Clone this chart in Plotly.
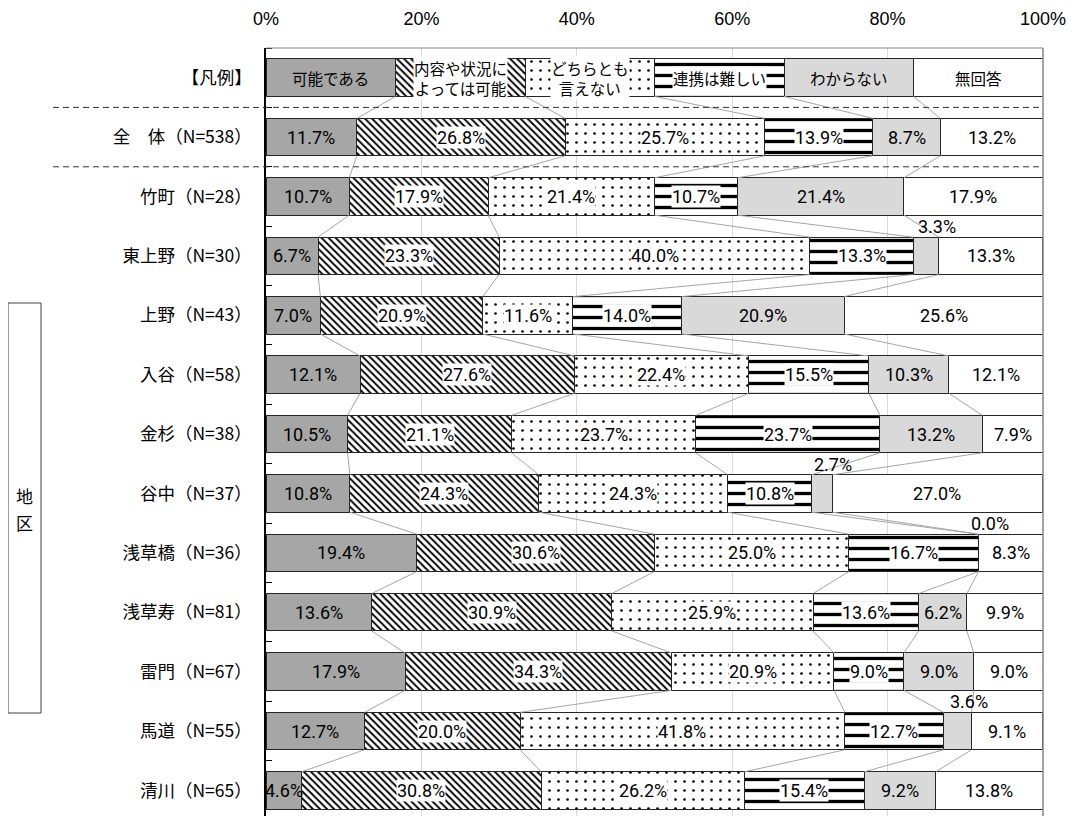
import plotly.graph_objects as go

# ---------------- data ----------------
categories = ["【凡例】", "全　体（N=538）", "竹町（N=28）", "東上野（N=30）", "上野（N=43）",
              "入谷（N=58）", "金杉（N=38）", "谷中（N=37）", "浅草橋（N=36）", "浅草寿（N=81）",
              "雷門（N=67）", "馬道（N=55）", "清川（N=65）"]
series_names = ["可能である", "内容や状況によっては可能", "どちらとも言えない", "連携は難しい", "わからない", "無回答"]
legend_labels = ["可能である", "内容や状況に<br>よっては可能", "どちらとも<br>言えない", "連携は難しい", "わからない", "無回答"]
legend_share = [100 / 6] * 6

kanou = [11.7, 10.7, 6.7, 7.0, 12.1, 10.5, 10.8, 19.4, 13.6, 17.9, 12.7, 4.6]
naiyou = [26.8, 17.9, 23.3, 20.9, 27.6, 21.1, 24.3, 30.6, 30.9, 34.3, 20.0, 30.8]
dochira = [25.7, 21.4, 40.0, 11.6, 22.4, 23.7, 24.3, 25.0, 25.9, 20.9, 41.8, 26.2]
renkei = [13.9, 10.7, 13.3, 14.0, 15.5, 23.7, 10.8, 16.7, 13.6, 9.0, 12.7, 15.4]
wakaranai = [8.7, 21.4, 3.3, 20.9, 10.3, 13.2, 2.7, 0.0, 6.2, 9.0, 3.6, 9.2]
mukaitou = [13.2, 17.9, 13.3, 25.6, 12.1, 7.9, 27.0, 8.3, 9.9, 9.0, 9.1, 13.8]

tick_vals = [0, 20, 40, 60, 80, 100]
tick_text = ["0%", "20%", "40%", "60%", "80%", "100%"]
group_label = ["地", "区"]

series = [kanou, naiyou, dochira, renkei, wakaranai, mukaitou]

# ---------------- styles ----------------
BAR_W = 0.63
JP = "Noto Sans CJK JP"
NUM = "Roboto, Liberation Sans, sans-serif"

# page body has an 8px margin: compensate so the plot lands where the reference has it
OFF = 8
W, H = 1086 - OFF, 816 - OFF
L, T, R = 266 - OFF, 48 - OFF, 43
PW = W - L - R       # 777
PH = H - T           # 768


def px_x(px):
    return (px - 266) / PW


def px_y(py):
    return (816 - py) / PH


styles = [
    dict(color="#a6a6a6"),
    dict(color="white", pattern=dict(shape="\\", fgcolor="black", bgcolor="white", size=5, solidity=0.38,
                                     fillmode="overlay", fgopacity=1)),
    dict(color="white", pattern=dict(shape=".", fgcolor="black", bgcolor="white", size=9, solidity=0.07,
                                     fillmode="overlay", fgopacity=1)),
    dict(color="white", pattern=dict(shape="-", fgcolor="black", bgcolor="white", size=11, solidity=0.3,
                                     fillmode="overlay", fgopacity=1)),
    dict(color="#d9d9d9"),
    dict(color="white"),
]
text_bg = [None, "white", "white", "white", None, None]

rows = list(range(len(categories)))

fig = go.Figure()

for k, name in enumerate(series_names):
    xs = [legend_share[k]] + series[k]
    m = dict(styles[k])
    m["line"] = dict(color="#262626", width=1)
    fig.add_trace(go.Bar(x=xs, y=rows, orientation="h", name=name, width=BAR_W,
                         marker=m, hoverinfo="skip"))

# cumulative boundaries
table = [legend_share] + [[s[i] for s in series] for i in range(len(kanou))]
cums = []
for vals in table:
    c = [0]
    for v in vals:
        c.append(c[-1] + v)
    cums.append(c)

# connector lines between consecutive bars
lx, ly = [], []
for i in range(len(table) - 1):
    for j in range(1, 6):
        lx += [cums[i][j], cums[i + 1][j], None]
        ly += [i + BAR_W / 2, i + 1 - BAR_W / 2, None]
fig.add_trace(go.Scatter(x=lx, y=ly, mode="lines", line=dict(color="#a6a6a6", width=1),
                         hoverinfo="skip", showlegend=False))

annotations = []
# legend row labels
for k in range(6):
    cx = cums[0][k] + legend_share[k] / 2
    annotations.append(dict(x=cx, y=0, xref="x", yref="y", text=legend_labels[k], showarrow=False,
                            xanchor="center", yanchor="middle",
                            font=dict(family=JP, size=15.5, color="black"),
                            bgcolor=text_bg[k], borderpad=0))
# value labels
for i in range(1, len(table)):
    for k in range(6):
        v = table[i][k]
        cx = cums[i][k] + v / 2
        txt = f"{v:.1f}%"
        if v < 4:
            annotations.append(dict(x=cx, y=i - BAR_W / 2, xref="x", yref="y", text=txt, showarrow=False,
                                    xanchor="center", yanchor="bottom", xshift=11, yshift=-2,
                                    font=dict(family=NUM, size=18, color="black")))
        else:
            annotations.append(dict(x=cx, y=i, xref="x", yref="y", text=txt, showarrow=False,
                                    xanchor="center", yanchor="middle",
                                    font=dict(family=NUM, size=18, color="black"),
                                    bgcolor=text_bg[k], borderpad=0))

# y-axis group label (vertical, one character per line)
for ch, py in zip(group_label, [496, 522]):
    annotations.append(dict(x=px_x(24.5), y=px_y(py), xref="paper", yref="paper",
                            xanchor="center", yanchor="middle",
                            text=ch, showarrow=False, font=dict(family=JP, size=17, color="black")))

shapes = [
    # plot area border (top, right)
    dict(type="line", xref="paper", yref="paper", x0=0, x1=1, y0=1, y1=1, line=dict(color="#868686", width=1)),
    dict(type="line", xref="paper", yref="paper", x0=1, x1=1, y0=0, y1=1, line=dict(color="#868686", width=1.5)),
    # dashed separators
    dict(type="line", xref="paper", yref="y", x0=px_x(53), x1=1, y0=0.5, y1=0.5,
         line=dict(color="#333333", width=1, dash="6px,4px")),
    dict(type="line", xref="paper", yref="y", x0=px_x(53), x1=1, y0=1.5, y1=1.5,
         line=dict(color="#333333", width=1, dash="6px,4px")),
    # group label box
    dict(type="rect", xref="paper", yref="paper", x0=px_x(8), x1=px_x(41),
         y0=px_y(713), y1=px_y(303), line=dict(color="#404040", width=1)),
]

fig.update_layout(
    width=W, height=H,
    margin=dict(l=L, r=R, t=T, b=0, autoexpand=False),
    plot_bgcolor="white", paper_bgcolor="white",
    barmode="stack", showlegend=False,
    annotations=annotations, shapes=shapes,
    xaxis=dict(range=[0, 100], side="top", tickmode="array", tickvals=tick_vals, ticktext=tick_text,
               showgrid=True, gridcolor="#d9d9d9", gridwidth=1, zeroline=False, showline=False,
               ticks="", tickfont=dict(family="Liberation Sans", size=18, color="black"),
               ticklabelstandoff=18),
    yaxis=dict(range=[12.43, -0.5], tickmode="array", tickvals=rows, ticktext=categories,
               ticks="", showline=True, linecolor="black", linewidth=1.5, showgrid=False, zeroline=False,
               tickfont=dict(family=JP, size=17.5, color="black"), ticklabelstandoff=9,
               minor=dict(tickmode="array", tickvals=[r - 0.5 for r in range(len(categories) + 1)],
                          ticks="inside", ticklen=6, tickcolor="black", tickwidth=1, showgrid=False)),
)

fig.write_html("out.html")
